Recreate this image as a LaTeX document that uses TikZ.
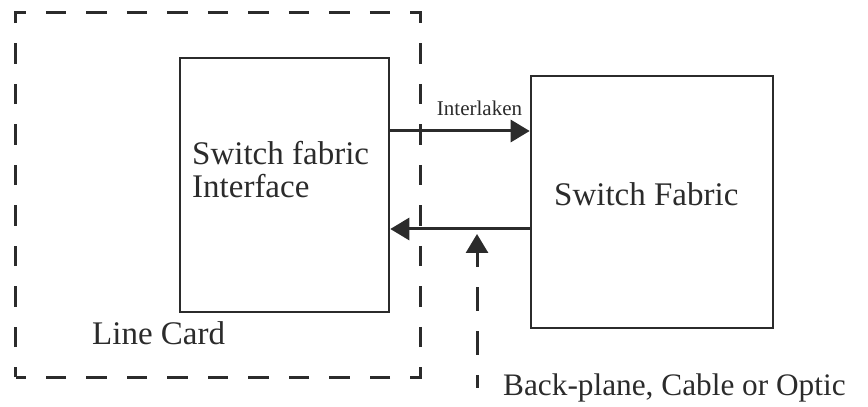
\documentclass[tikz,border=0pt]{standalone}
\usepackage{fontspec}
\setmainfont{Liberation Serif}
\usetikzlibrary{arrows.meta}
\definecolor{ink}{HTML}{2B2B2B}

\begin{document}
\begin{tikzpicture}[x=1pt, y=1pt, >={Triangle[length=19pt, width=22pt]},
  block/.style={draw=ink, line width=2.6pt, inner sep=0pt},
  card/.style={draw=ink, line width=3pt, dash pattern=on 20.25pt off 20.25pt, dash phase=10.125pt},
  link/.style={draw=ink, line width=3pt},
  txt/.style={text=ink, inner sep=0pt, font=\fontsize{33}{33}\selectfont},
  small/.style={text=ink, inner sep=0pt, font=\fontsize{21}{21}\selectfont}]
  \useasboundingbox (0,0) rectangle (868,407);

  % Line card (dashed frame)
  \draw[card] (15.5,29.5) rectangle (420.5,394);
  \node[txt, anchor=base west] (lc) at (92,62) {Line Card};

  % Blocks
  \node[block, minimum width=209pt, minimum height=254pt] (sfi) at (284.5,222) {};
  \node[block, minimum width=242pt, minimum height=252pt] (sf) at (652,205) {};
  \node[txt, anchor=base west] (sfiA) at (192,242) {Switch fabric};
  \node[txt, anchor=base west] (sfiB) at (192,209) {Interface};
  \node[txt, anchor=base west] (sfA) at (554,201) {Switch Fabric};

  % Links between the blocks
  \coordinate (upper) at (460,276);
  \coordinate (lower) at (460,178);
  \draw[link, ->] (sfi.east |- upper) -- (sf.west |- upper)
    node[small, pos=0.64, above=14pt] (il) {Interlaken};
  \draw[link, ->] (sf.west |- lower) -- (sfi.east |- lower);

  % Back-plane
  \coordinate (bp) at (477,19);
  \coordinate (bptip) at (477,173);
  \draw[link, ->, dash pattern=on 24pt off 20pt, dash phase=11pt] (bp) -- (bptip);
  \node[txt, anchor=base west, font=\fontsize{31.3}{31.3}\selectfont] (bpl) at (503,11) {Back-plane, Cable or Optic};
\end{tikzpicture}
\end{document}
